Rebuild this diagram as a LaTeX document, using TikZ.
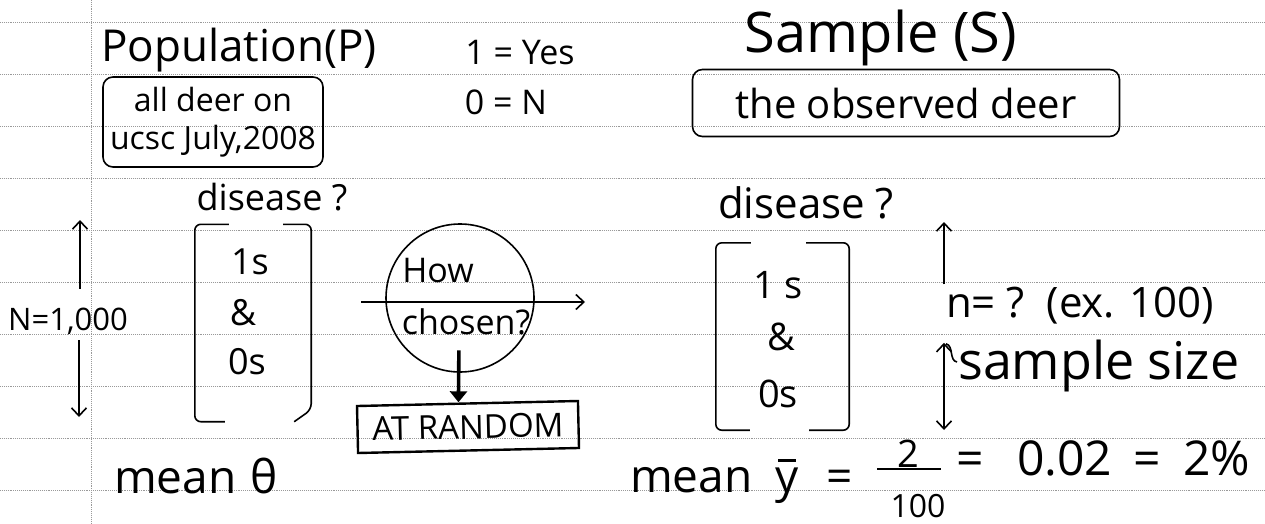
\documentclass[tikz,border=0pt]{standalone}
\usepackage{amsmath}
\usepackage{fontspec}
\setmainfont{Open Sans}
\usetikzlibrary{arrows.meta,positioning}

\newcommand{\ybar}{\ooalign{y\cr\hidewidth\raisebox{0.66em}{\rule{0.38em}{0.055em}}\hidewidth\cr}}

\tikzset{
  fs/.style={font=\fontsize{#1}{#1}\selectfont, inner sep=1pt},
  ruled/.style={black!40, densely dotted, line width=0.9pt},
  pen/.style={line width=1.6pt},
  arr/.style={pen, -{Straight Barb[length=8pt,width=15pt]}},
  darr/.style={pen, {Straight Barb[length=8pt,width=15pt]}-{Straight Barb[length=8pt,width=15pt]}},
  bigarr/.style={line width=3.6pt, -{Triangle[length=11pt,width=17pt]}},
  roundbox/.style={draw, pen, rounded corners=10pt},
  vecbrace/.style={pen, rounded corners=6pt},
}

\begin{document}
\begin{tikzpicture}[x=1pt, y=-1pt]
\useasboundingbox (0,0) rectangle (1265,524);

% notebook paper
\foreach \k in {0,...,9}
  \draw[ruled] (0,22+52*\k) -- (1265,22+52*\k);
\draw[ruled] (91,0) -- (91,524);

% population
\node[fs=44] (pop) at (239,50) {Population(P)};
\node[roundbox, fs=32, minimum width=220, minimum height=90, align=center] (popbox) at (213,122) {all deer on\\[6pt]ucsc July,2008};
\node[fs=34] (yes) at (520,53) {1 = Yes};
\node[fs=34] (no) at (506,102) {0 = N};
\node[fs=36] (dpop) at (272,197) {disease ?};

% population vector
\node[minimum width=116, minimum height=197] (popvec) at (253,323) {};
\draw[vecbrace] ([xshift=34]popvec.north west) -- (popvec.north west) -- (popvec.south west) -- ([xshift=30]popvec.south west);
\draw[vecbrace] ([xshift=-28]popvec.north east) -- (popvec.north east) -- ([yshift=12]popvec.south east) -- ([xshift=-17]popvec.south east);
\node[fs=36] (p1) at (250,262) {1s};
\node[fs=36] (pa) at (243,313) {\&};
\node[fs=36] (p0) at (247,362) {0s};

% N
\node[fs=31] (Nlab) at (68,321) {N=1,000};
\coordinate (Ntop) at (80,220);
\coordinate (Nbot) at (79,417);
\draw[arr, shorten <=18pt] (Nlab.north -| Ntop) -- (Ntop);
\draw[arr, shorten <=5pt] (Nlab.south -| Nbot) -- (Nbot);

% how chosen
\node[draw, pen, circle, minimum size=148] (howc) at (460,298) {};
\node[fs=34] (how) at (438,271) {How};
\node[fs=34] (chsn) at (466,322) {chosen?};
\coordinate (flowA) at (361,302);
\coordinate (flowB) at (585,302);
\draw[arr] (flowA) -- (flowB);
\node[draw, line width=2.4pt, fs=33, minimum width=221, minimum height=47, rotate=1.3] (rand) at (468,427) {AT RANDOM};
\draw[bigarr, shorten <=14pt] ([xshift=-7]chsn.south) -- ([xshift=-9]rand.north);

\node[fs=46, anchor=base west] (mpop) at (113,493) {mean\hspace{0.3em}θ};

% sample
\node[fs=56] (samp) at (881,38) {Sample (S)};
\node[roundbox, fs=40, minimum width=427, minimum height=67] (sampbox) at (906,103) {the observed deer};
\node[fs=42] (dsamp) at (806,203) {disease ?};

% sample vector
\node[minimum width=133, minimum height=187] (sampvec) at (782.5,336.5) {};
\draw[vecbrace] ([xshift=35]sampvec.north west) -- (sampvec.north west) -- (sampvec.south west) -- ([xshift=34]sampvec.south west);
\draw[vecbrace] ([xshift=-43]sampvec.north east) -- (sampvec.north east) -- (sampvec.south east) -- ([xshift=-40]sampvec.south east);
\node[fs=38] (s1) at (778,285) {1 s};
\node[fs=38] (sa) at (781,337) {\&};
\node[fs=38] (s0) at (778,394) {0s};

% n
\node[fs=42] (nlab) at (1080,306) {n= ?\ \ (ex. 100)};
\coordinate (nTop) at (944,222);
\coordinate (nBot) at (944,430);
\draw[arr, shorten <=2pt] (nlab.north -| nTop) -- (nTop);
\draw[darr, shorten <=17pt] (nlab.south -| nBot) -- (nBot);
\node[fs=52, anchor=west] (ssz) at (957,366) {sample size};
\draw[pen] (nlab.south -| nTop) ++(2,18) to[out=-15, in=170] ([yshift=4]ssz.west);

% sample mean
\node[fs=46, anchor=base west] (msamp) at (629,492) {mean\hspace{0.5em}\ybar\hspace{0.6em}=};
\node[fs=38] (num) at (908,454) {2};
\node[fs=32] (den) at (918,506) {100};
\draw[pen] ([xshift=-31]num.south) -- ([xshift=33]num.south);
\node[fs=48, anchor=base west] (res) at (955,475) {=\hspace{0.7em}0.02\hspace{0.45em}=\hspace{0.45em}2\%};

\end{tikzpicture}
\end{document}
